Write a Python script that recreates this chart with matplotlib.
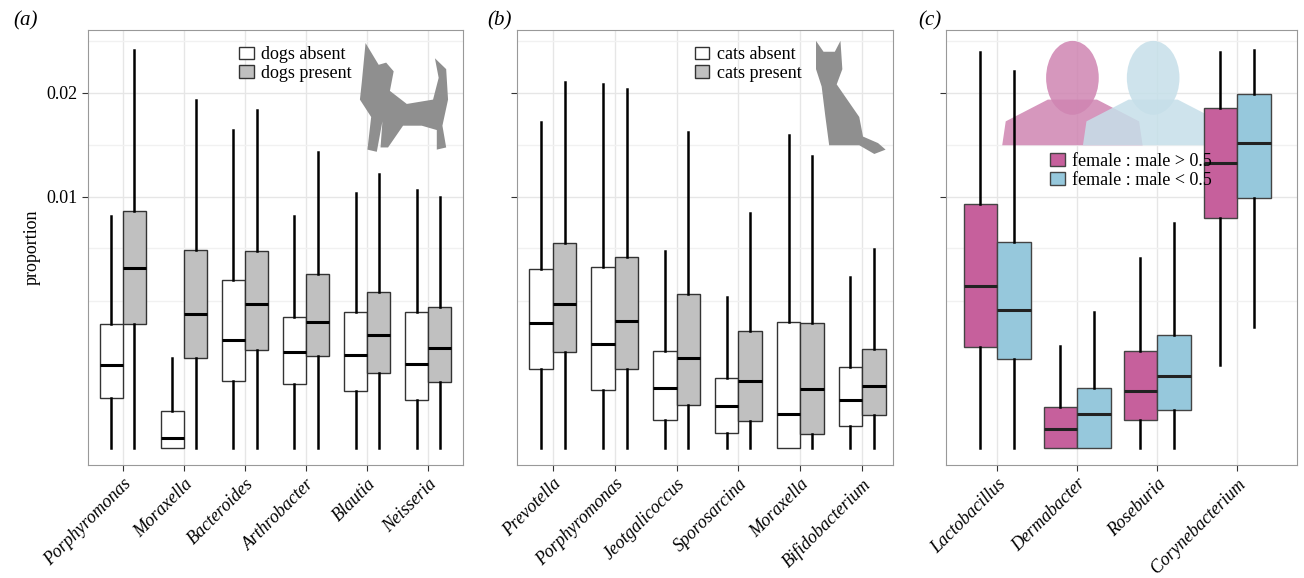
import numpy as np
import matplotlib
matplotlib.use("Agg")
import matplotlib.pyplot as plt
from matplotlib.patches import Patch, Polygon, Ellipse

plt.rcParams["font.family"] = ["Liberation Serif", "DejaVu Serif"]

# five-number summaries: [whisker low, q1, median, q3, whisker high]
genera_a = ["Porphyromonas", "Moraxella", "Bacteroides", "Arthrobacter", "Blautia", "Neisseria"]
dogs_absent = [
    [0, .000397, .001094, .00244, .00854],
    [0, 0, .0000159, .000217, .001286],
    [0, .000713, .00185, .00448, .01605],
    [0, .00065, .001463, .002724, .00854],
    [0, .000516, .001373, .002936, .01032],
    [0, .000366, .00112, .002936, .01057],
]
dogs_present = [
    [0, .00244, .00514, .00892, .02514],
    [0, .001286, .00285, .00622, .01922],
    [0, .001524, .00329, .00616, .01813],
    [0, .001343, .00252, .00481, .01391],
    [0, .000893, .002027, .003863, .01192],
    [0, .000691, .001587, .003156, .01],
]

genera_b = ["Prevotella", "Porphyromonas", "Jeotgalicoccus", "Sporosarcina", "Moraxella", "Bifidobacterium"]
cats_absent = [
    [0, .000991, .00248, .005086, .01687],
    [0, .000534, .001717, .0052, .02103],
    [0, .000124, .000571, .001494, .00616],
    [0, .0000357, .00028, .000778, .00362],
    [0, 0, .000183, .00252, .01555],
    [0, .0000768, .000366, .001041, .00464],
]
cats_present = [
    [0, .001463, .00329, .00667, .02126],
    [0, .000991, .00256, .00579, .02046],
    [0, .000293, .001286, .003764, .01585],
    [0, .000116, .000713, .002173, .00877],
    [0, .0000311, .000553, .00248, .01353],
    [0, .000173, .00061, .001556, .00629],
]

genera_c = ["Lactobacillus", "Dermabacter", "Roseburia", "Corynebacterium"]
female_high = [
    [0, .001619, .004166, .00945, .02489],
    [0, 0, .0000573, .000267, .001651],
    [0, .000124, .000516, .001494, .00573],
    [.001094, .0084, .01289, .01835, .02489],
]
female_low = [
    [0, .001257, .003023, .006736, .02256],
    [0, 0, .000183, .000571, .002936],
    [0, .000229, .000823, .002027, .008036],
    [.002324, .00992, .01477, .01989, .02514],
]

PINK = "#c6609c"
BLUE = "#96c8dc"
SIL = "#8f8f8f"


def fwd(x):
    x = np.asarray(x, dtype=float)
    return np.sign(x) * np.sqrt(np.abs(x))


def inv(x):
    x = np.asarray(x, dtype=float)
    return np.sign(x) * x ** 2


def stats(rows):
    return [dict(whislo=r[0], q1=r[1], med=r[2], q3=r[3], whishi=r[4]) for r in rows]


def draw(ax, rows, pos, width, color, edge, medcolor):
    ax.bxp(stats(rows), positions=pos, widths=width, showfliers=False, showcaps=False,
           patch_artist=True, manage_ticks=False,
           boxprops=dict(facecolor=color, edgecolor=edge, linewidth=1.0),
           whiskerprops=dict(color="black", linewidth=1.8),
           medianprops=dict(color=medcolor, linewidth=2.2), zorder=3)


def setup(ax, labels, xlim, show_y):
    ax.set_yscale("function", functions=(fwd, inv))
    ax.set_ylim(-0.0000459, 0.0277)
    ax.set_xlim(*xlim)
    ax.set_xticks(np.arange(1, len(labels) + 1))
    ax.set_xticklabels(labels, rotation=45, ha="right", rotation_mode="anchor",
                       style="italic", fontsize=13)
    ax.set_yticks([0.01, 0.02])
    ax.set_yticklabels(["0.01", "0.02"] if show_y else ["", ""], fontsize=13)
    ax.set_yticks([0.00343, 0.00635, 0.01457, 0.0263], minor=True)
    ax.grid(True, which="major", color="#e6e6e6", linewidth=1.0, zorder=0)
    ax.grid(True, which="minor", axis="y", color="#f1f1f1", linewidth=1.0, zorder=0)
    ax.set_axisbelow(True)
    ax.tick_params(which="minor", length=0)
    ax.tick_params(axis="both", length=4, color="#333333")
    for s in ax.spines.values():
        s.set_color("#999999")


def legend(ax, labels, colors, edge, anchor):
    leg = ax.legend(handles=[Patch(facecolor=c, edgecolor=edge, label=l) for l, c in zip(labels, colors)],
                    loc="upper left", bbox_to_anchor=anchor, frameon=False, fontsize=13,
                    handlelength=0.8, handletextpad=0.4, labelspacing=0.1)
    leg.set_zorder(10)


fig = plt.figure(figsize=(13.04, 5.78), dpi=100)
axa = fig.add_axes([0.0675, 0.1955, 0.2876, 0.7526])
axb = fig.add_axes([0.3965, 0.1955, 0.2884, 0.7526])
axc = fig.add_axes([0.7255, 0.1955, 0.2692, 0.7526])

xa = np.arange(1, 7)
draw(axa, dogs_absent, xa - 0.19, 0.38, "white", "#333333", "black")
draw(axa, dogs_present, xa + 0.19, 0.38, "#c0c0c0", "#333333", "black")
setup(axa, genera_a, (0.43, 6.57), True)
axa.set_ylabel("proportion", fontsize=13)
legend(axa, ["dogs absent", "dogs present"], ["white", "#c0c0c0"], "#333333", (0.36, 1.0))

draw(axb, cats_absent, xa - 0.19, 0.38, "white", "#333333", "black")
draw(axb, cats_present, xa + 0.19, 0.38, "#c0c0c0", "#333333", "black")
setup(axb, genera_b, (0.42, 6.5), False)
legend(axb, ["cats absent", "cats present"], ["white", "#c0c0c0"], "#333333", (0.43, 1.0))

xc = np.arange(1, 5)
# silhouettes of two heads, behind the boxes
for cx, col in [(0.36, "#cf85b2"), (0.59, "#c6dfe9")]:
    axc.add_patch(Ellipse((cx, 0.89), 0.15, 0.17, facecolor=col, edgecolor="none", alpha=0.85,
                          transform=axc.transAxes, zorder=1))
    axc.add_patch(Polygon([(cx - 0.07, 0.84), (cx + 0.07, 0.84), (cx + 0.19, 0.79),
                           (cx + 0.2, 0.735), (cx - 0.2, 0.735), (cx - 0.19, 0.79)],
                          closed=True, facecolor=col, edgecolor="none", alpha=0.85,
                          transform=axc.transAxes, zorder=1))
draw(axc, female_high, xc - 0.21, 0.42, PINK, "#444444", "#222222")
draw(axc, female_low, xc + 0.21, 0.42, BLUE, "#444444", "#222222")
setup(axc, genera_c, (0.36, 4.75), False)
legend(axc, ["female : male > 0.5", "female : male < 0.5"], [PINK, BLUE], "#444444", (0.25, 0.755))

dog = [(0.73, 0.88), (0.74, 0.97), (0.775, 0.92), (0.795, 0.925), (0.815, 0.905), (0.805, 0.86),
       (0.85, 0.83), (0.92, 0.84), (0.935, 0.89), (0.925, 0.935), (0.955, 0.91), (0.96, 0.84),
       (0.945, 0.78), (0.955, 0.73), (0.93, 0.725), (0.93, 0.77), (0.89, 0.78), (0.84, 0.78),
       (0.80, 0.73), (0.78, 0.73), (0.785, 0.79), (0.77, 0.72), (0.745, 0.725), (0.755, 0.80),
       (0.725, 0.84)]
axa.add_patch(Polygon(dog, closed=True, facecolor=SIL, edgecolor="none",
                      transform=axa.transAxes, zorder=2))
cat = [(0.795, 0.91), (0.795, 0.975), (0.815, 0.95), (0.845, 0.95), (0.86, 0.975), (0.865, 0.91),
       (0.85, 0.875), (0.87, 0.85), (0.91, 0.80), (0.92, 0.755), (0.96, 0.74), (0.98, 0.725),
       (0.95, 0.715), (0.91, 0.735), (0.83, 0.735), (0.82, 0.80), (0.81, 0.87)]
axb.add_patch(Polygon(cat, closed=True, facecolor=SIL, edgecolor="none",
                      transform=axb.transAxes, zorder=2))

for ax, tag in [(axa, "(a)"), (axb, "(b)"), (axc, "(c)")]:
    ax.text(-0.2 if ax is axa else -0.08, 1.0, tag, transform=ax.transAxes, fontsize=15,
            style="italic", va="bottom", ha="left")

fig.savefig("out.png", dpi=100)
